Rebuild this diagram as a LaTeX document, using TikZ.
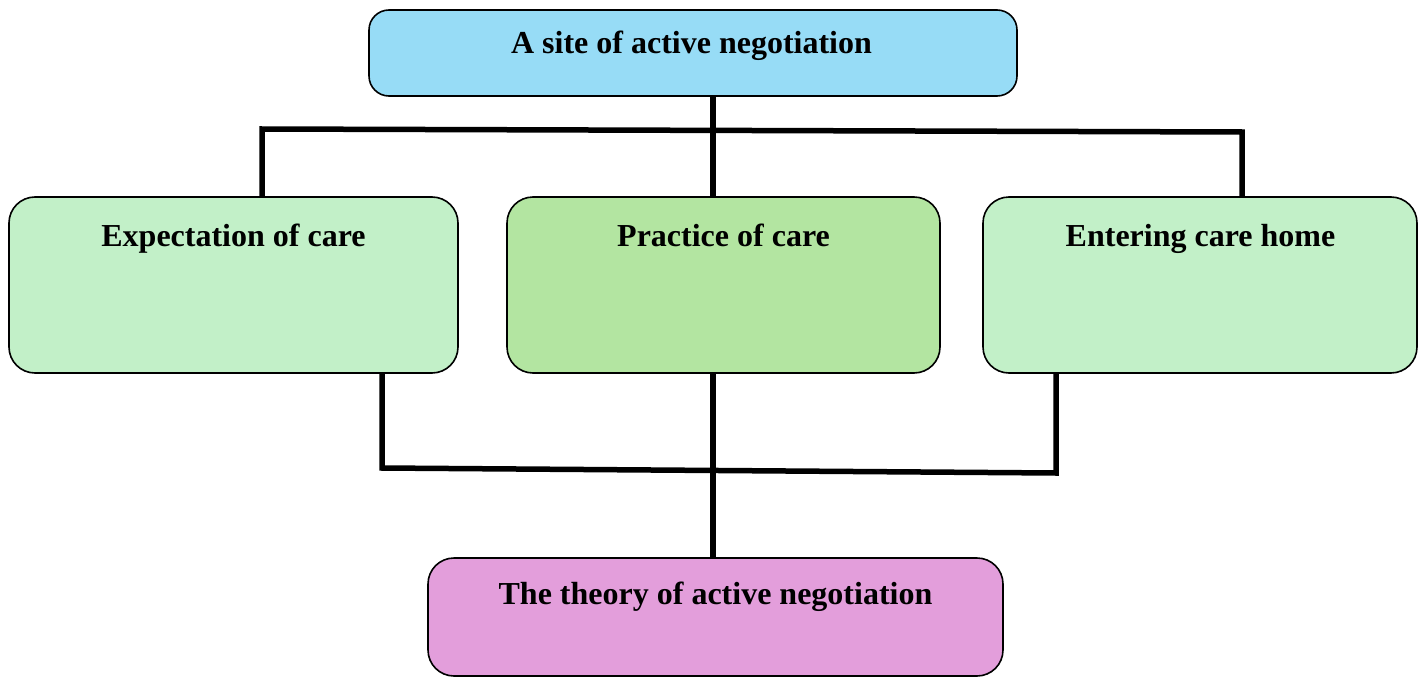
\documentclass[tikz,border=0pt]{standalone}
\usepackage{fontspec}
\setmainfont{Liberation Serif}
\definecolor{topblue}{HTML}{97DCF6}
\definecolor{sidegreen}{HTML}{C2F0C8}
\definecolor{midgreen}{HTML}{B3E5A1}
\definecolor{pinkbox}{HTML}{E39EDB}
\begin{document}
\begin{tikzpicture}[x=1pt,y=-1pt,
  box/.style={draw=black, line width=1.6pt, rounded corners=#1, inner sep=0pt},
  box/.default=26pt,
  lbl/.style={font=\bfseries\fontsize{32}{36}\selectfont, inner sep=0pt, anchor=base},
  conn/.style={line width=5.5pt, line cap=butt}]
\useasboundingbox (0,0) rectangle (1424,677);
% boxes
\node[box=20pt, fill=topblue, minimum width=648pt, minimum height=86pt] (top) at (693,53) {};
\node[box, fill=sidegreen, minimum width=449pt, minimum height=176pt] (exp) at (233.5,285) {};
\node[box, fill=midgreen, minimum width=433pt, minimum height=176pt] (prac) at (723.5,285) {};
\node[box, fill=sidegreen, minimum width=434pt, minimum height=176pt] (ent) at (1200,285) {};
\node[box, fill=pinkbox, minimum width=575pt, minimum height=118pt] (theory) at (715.5,617) {};
% labels
\node[lbl] (topt) at (691.5,54) {A site of active negotiation};
\node[lbl] (expt) at (233.5,246) {Expectation of care};
\node[lbl] (pract) at (723.5,246) {Practice of care};
\node[lbl] (entt) at (1200.5,246) {Entering care home};
\node[lbl] (theoryt) at (715.5,604) {The theory of active negotiation};
% junction coordinates
\coordinate (tl) at (262,129);
\coordinate (tr) at (1242,132);
\coordinate (tm) at (713,130);
\coordinate (bl) at (382,468);
\coordinate (br) at (1056,473);
\coordinate (bm) at (713,470);
% upper connectors
\draw[conn] (top.south -| tm) -- (prac.north -| tm);
\draw[conn] (exp.north -| tl) -- (tl) -- (tr) -- (ent.north -| tr);
% lower connectors
\draw[conn] (exp.south -| bl) -- (bl) -- (br) -- (ent.south -| br);
\draw[conn] (prac.south -| bm) -- (theory.north -| bm);
\end{tikzpicture}
\end{document}
